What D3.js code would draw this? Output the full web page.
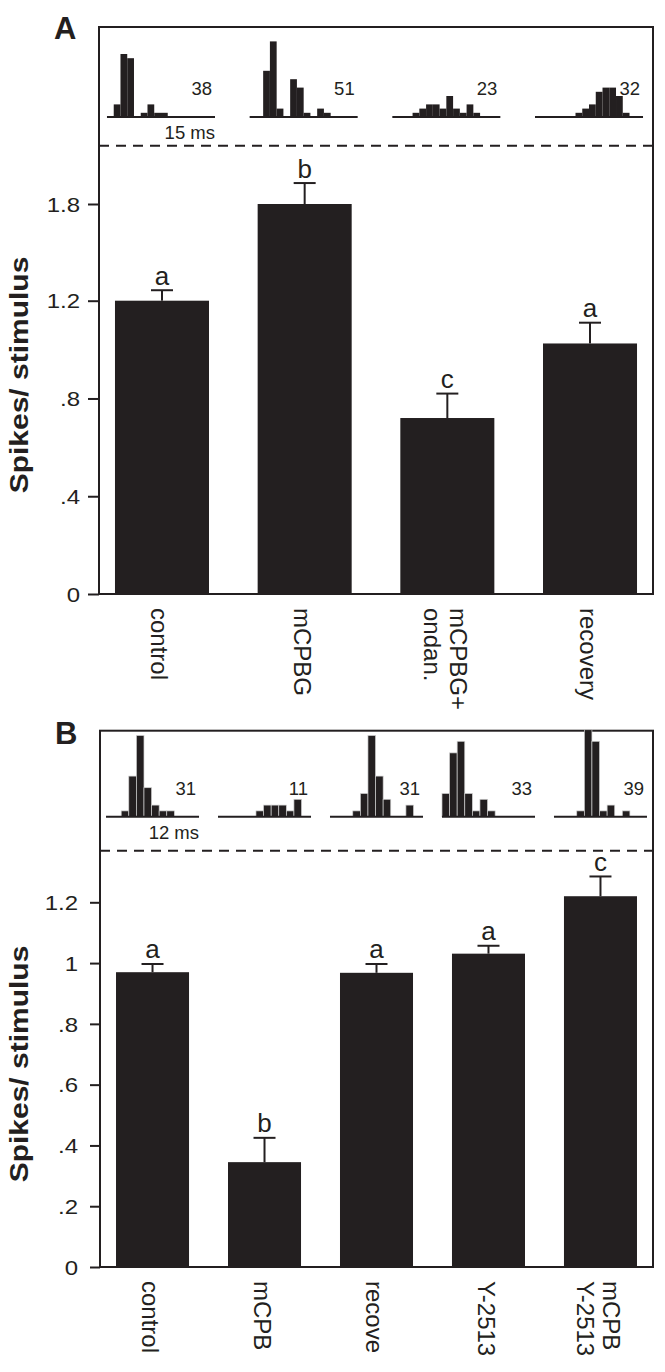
<!DOCTYPE html>
<html><head><meta charset="utf-8">
<script src="https://cdn.jsdelivr.net/npm/d3@7"></script>
<style>
body{margin:0;background:#fff}
svg{display:block}
text{font-family:"Liberation Sans",Arial,Helvetica,sans-serif;fill:#231f20}
</style>
</head><body><svg id="c" width="665" height="1372"></svg>
<script>
// ---------- Panel A data ----------
const catsA = [["control"], ["mCPBG"], ["mCPBG+", "ondan."], ["recovery"]];
const valsA = [1.2, 1.8, 0.72, 1.025];
const errsA = [0.065, 0.13, 0.10, 0.085];
const sigA = ["a", "b", "c", "a"];
const histA = [
  [0, 3, 15, 14, 0, 1, 3, 1, 1, 0, 0, 0, 0, 0, 0, 0],
  [0, 0, 11, 18, 2, 0, 9, 7, 1, 0, 2, 1, 0, 0, 0, 0],
  [0, 0, 0, 1, 2, 3, 3, 2, 5, 2, 1, 3, 1, 0, 0, 0],
  [0, 0, 0, 0, 0, 0, 1, 2, 3, 6, 7, 7, 5, 1, 0, 0]
];
const countsA = ["38", "51", "23", "32"];
const ticksA = [0, 0.4, 0.8, 1.2, 1.8];
const tickLabelsA = ["0", ".4", ".8", "1.2", "1.8"];

// ---------- Panel B data ----------
const catsB = [["control"], ["mCPB"], ["recove"], ["Y-2513"], ["mCPB", "Y-2513"]];
const valsB = [0.97, 0.345, 0.968, 1.031, 1.22];
const errsB = [0.027, 0.08, 0.029, 0.026, 0.065];
const sigB = ["a", "b", "a", "a", "c"];
const histB = [
  [0, 0, 1, 7, 14, 5, 2, 1, 1, 0, 0, 0],
  [0, 0, 0, 0, 0, 1, 2, 2, 2, 1, 3, 0],
  [0, 0, 0, 1, 4, 14, 7, 3, 0, 0, 2, 0],
  [4, 11, 13, 4, 1, 3, 1, 0, 0, 0, 0, 0],
  [0, 0, 0, 1, 15, 13, 1, 2, 0, 1, 0, 0]
];
const countsB = ["31", "11", "31", "33", "39"];
const ticksB = [0, 0.2, 0.4, 0.6, 0.8, 1, 1.2];
const tickLabelsB = ["0", ".2", ".4", ".6", ".8", "1", "1.2"];

const INK = "#231f20";
const svg = d3.select("#c");

function panel(cfg) {
  const g = svg.append("g");
  const n = cfg.cats.length;
  const x = d3.scaleBand().domain(d3.range(n))
    .range([cfg.left, cfg.right]).paddingInner(cfg.pIn).paddingOuter(cfg.pOut);
  const y = d3.scaleLinear().domain(cfg.yDomain).range(cfg.yRange);
  const cx = i => x(i) + x.bandwidth() / 2;

  // bars
  g.selectAll(".bar").data(cfg.vals).join("rect")
    .attr("x", (d, i) => x(i)).attr("width", x.bandwidth())
    .attr("y", d => y(d)).attr("height", d => y(0) - y(d))
    .attr("fill", INK);

  // error bars
  const eb = g.selectAll(".eb").data(cfg.vals).join("g")
    .attr("stroke", INK).attr("stroke-width", 2);
  eb.append("line")
    .attr("x1", (d, i) => cx(i)).attr("x2", (d, i) => cx(i))
    .attr("y1", d => y(d)).attr("y2", (d, i) => y(d + cfg.errs[i]));
  eb.append("line")
    .attr("x1", (d, i) => cx(i) - 11).attr("x2", (d, i) => cx(i) + 11)
    .attr("y1", (d, i) => y(d + cfg.errs[i])).attr("y2", (d, i) => y(d + cfg.errs[i]));

  // significance letters
  g.selectAll(".sig").data(cfg.vals).join("text")
    .attr("x", (d, i) => cx(i))
    .attr("y", (d, i) => y(d + cfg.errs[i]) - 5.5)
    .attr("text-anchor", "middle").style("font-size", "26px")
    .text((d, i) => cfg.sig[i]);

  // frame
  g.append("rect").attr("x", cfg.left).attr("y", cfg.top)
    .attr("width", cfg.right - cfg.left).attr("height", cfg.yRange[0] - cfg.top)
    .attr("fill", "none").attr("stroke", INK).attr("stroke-width", 2);
  g.append("line").attr("x1", cfg.left).attr("x2", cfg.right)
    .attr("y1", cfg.dashY).attr("y2", cfg.dashY)
    .attr("stroke", INK).attr("stroke-width", 2).attr("stroke-dasharray", "10,7");

  // y axis
  const ax = g.append("g").attr("transform", `translate(${cfg.left},0)`)
    .call(d3.axisLeft(y).tickValues(cfg.ticks).tickFormat((d, i) => cfg.tickLabels[i])
      .tickSize(cfg.tickLen).tickSizeOuter(0));
  ax.select(".domain").remove();
  ax.selectAll(".tick line").attr("stroke", INK).attr("stroke-width", 2);
  ax.selectAll(".tick text").attr("x", null).attr("dy", "0.36em")
    .attr("transform", `translate(${-cfg.labelGap},0) scale(1.2,1)`)
    .attr("fill", INK).style("font-size", "20px")
    .style("font-family", '"Liberation Sans",Arial,sans-serif');

  // y title
  g.append("text")
    .attr("transform", `translate(28,${cfg.titleY}) rotate(-90) scale(1.2,1)`)
    .attr("text-anchor", "middle").style("font-size", "25px").style("font-weight", "bold")
    .text("Spikes/ stimulus");

  // x category labels (rotated, reading downward)
  const xl = g.selectAll(".xl").data(cfg.cats).join("g")
    .attr("transform", (d, i) => `translate(${cx(i)},${cfg.yRange[0] + 14}) rotate(90)`);
  xl.each(function (lines) {
    const t = d3.select(this);
    lines.forEach((s, k) => {
      t.append("text").attr("x", 0)
        .attr("y", (k - (lines.length - 1) / 2) * 26.5 + 10.5)
        .style("font-size", "24px").text(s);
    });
  });

  // histograms
  cfg.hists.forEach((h, i) => {
    const hx = d3.scaleLinear().domain([0, cfg.binSpan])
      .range([x(i) - cfg.extL, x(i) + x.bandwidth() + cfg.extR]);
    const hy = d3.scaleLinear().domain([0, 1]).range([cfg.histBase, cfg.histBase - cfg.unit]);
    const bins = h.map((v, j) => ({ j, v })).filter(b => b.v > 0);
    const hg = g.append("g");
    hg.selectAll("rect").data(bins).join("rect")
      .attr("x", b => hx(b.j)).attr("width", hx(1) - hx(0))
      .attr("y", b => hy(b.v)).attr("height", b => hy(0) - hy(b.v))
      .attr("fill", INK).attr("stroke", cfg.sep ? "#cfcfcf" : "none").attr("stroke-width", 0.7);
    hg.append("line").attr("x1", hx(0)).attr("x2", hx(cfg.binSpan))
      .attr("y1", cfg.histBase).attr("y2", cfg.histBase)
      .attr("stroke", INK).attr("stroke-width", 2);
    hg.append("text").attr("x", hx(cfg.binSpan) - 3).attr("y", cfg.histBase - 22)
      .attr("text-anchor", "end").style("font-size", "18.5px").text(cfg.counts[i]);
    if (i === 0) {
      hg.append("text").attr("x", hx(cfg.binSpan)).attr("y", cfg.histBase + 22)
        .attr("text-anchor", "end").style("font-size", "18.5px").text(cfg.msLabel);
    }
  });

  // panel letter
  g.append("text").attr("x", cfg.letterX).attr("y", cfg.letterY)
    .style("font-size", "31px").style("font-weight", "bold").text(cfg.letter);
}

panel({
  cats: catsA, vals: valsA, errs: errsA, sig: sigA, hists: histA, counts: countsA,
  ticks: ticksA, tickLabels: tickLabelsA,
  left: 99, right: 653, top: 27, dashY: 145.7,
  yDomain: [0, 1.2, 1.8], yRange: [594, 300.7, 204],
  pIn: 0.341, pOut: 0.112, tickLen: 11, labelGap: 19, titleY: 375,
  histBase: 117, unit: 4.2, binSpan: 16, extL: 8, extR: 6, sep: false,
  msLabel: "15 ms", letter: "A", letterX: 54, letterY: 39
});
panel({
  cats: catsB, vals: valsB, errs: errsB, sig: sigB, hists: histB, counts: countsB,
  ticks: ticksB, tickLabels: tickLabelsB,
  left: 100, right: 653, top: 730.7, dashY: 850.7,
  yDomain: [0, 1.2], yRange: [1267, 902.3],
  pIn: 0.348, pOut: 0.143, tickLen: 10, labelGap: 22, titleY: 1064,
  histBase: 816.7, unit: 5.8, binSpan: 12.25, extL: 10, extR: 10, sep: true,
  msLabel: "12 ms", letter: "B", letterX: 55, letterY: 744
});
</script>
</body></html>
